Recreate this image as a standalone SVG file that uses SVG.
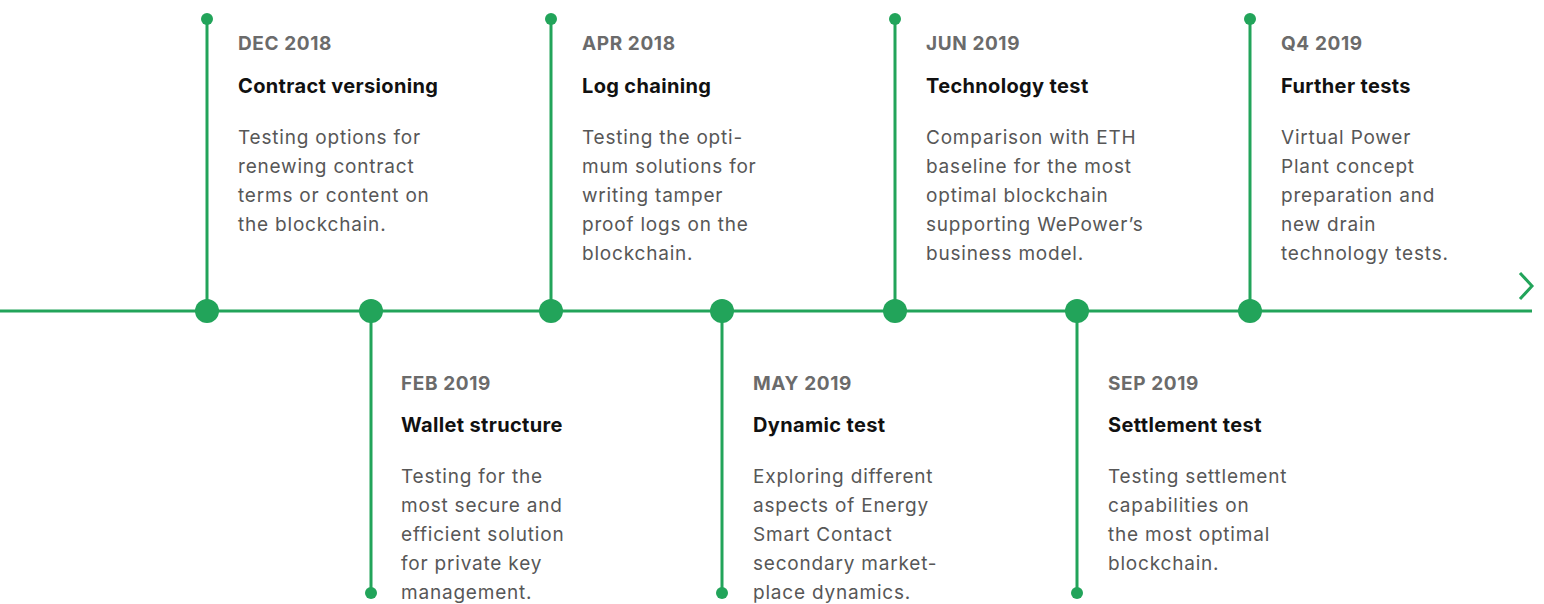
<svg xmlns="http://www.w3.org/2000/svg" width="1544" height="604" viewBox="0 0 1544 604">
<style>
.ln{stroke:#22a45a;stroke-width:3;fill:none}
.dot{fill:#22a45a}
.date{font-family:Inter,"Liberation Sans",sans-serif;font-size:19px;font-weight:700;fill:#6b6b6b;letter-spacing:0.6px}
.title{font-family:Inter,"Liberation Sans",sans-serif;font-size:20px;font-weight:700;fill:#111;letter-spacing:0.35px}
.body{font-family:Inter,"Liberation Sans",sans-serif;font-size:19px;fill:#575757;letter-spacing:0.8px}
</style>
<rect width="1544" height="604" fill="#fff"/>
<g id="connectors">
<line class="ln" x1="0" y1="311" x2="1532" y2="311"/>
<polyline class="ln" points="1520,273 1532,286 1520,299"/>
<line class="ln" x1="207" y1="19" x2="207" y2="311"/>
<line class="ln" x1="551" y1="19" x2="551" y2="311"/>
<line class="ln" x1="895" y1="19" x2="895" y2="311"/>
<line class="ln" x1="1250" y1="19" x2="1250" y2="311"/>
<line class="ln" x1="371" y1="311" x2="371" y2="593"/>
<line class="ln" x1="722" y1="311" x2="722" y2="593"/>
<line class="ln" x1="1077" y1="311" x2="1077" y2="593"/>
</g>
<g id="node-dec2018">
<circle class="dot" cx="207" cy="19" r="6"/><circle class="dot" cx="207" cy="311" r="12"/>
<text class="date" x="238" y="50">DEC 2018</text>
<text class="title" x="238" y="93">Contract versioning</text>
<text class="body" x="238"><tspan x="238" y="144">Testing options for</tspan><tspan x="238" y="173">renewing contract</tspan><tspan x="238" y="202">terms or content on</tspan><tspan x="238" y="231">the blockchain.</tspan></text>
</g>
<g id="node-feb2019">
<circle class="dot" cx="371" cy="311" r="12"/><circle class="dot" cx="371" cy="593" r="6"/>
<text class="date" x="401" y="390">FEB 2019</text>
<text class="title" x="401" y="432">Wallet structure</text>
<text class="body"><tspan x="401" y="483">Testing for the</tspan><tspan x="401" y="512">most secure and</tspan><tspan x="401" y="541">efficient solution</tspan><tspan x="401" y="570">for private key</tspan><tspan x="401" y="599">management.</tspan></text>
</g>
<g id="node-apr2018">
<circle class="dot" cx="551" cy="19" r="6"/><circle class="dot" cx="551" cy="311" r="12"/>
<text class="date" x="582" y="50">APR 2018</text>
<text class="title" x="582" y="93">Log chaining</text>
<text class="body"><tspan x="582" y="144">Testing the opti-</tspan><tspan x="582" y="173">mum solutions for</tspan><tspan x="582" y="202">writing tamper</tspan><tspan x="582" y="231">proof logs on the</tspan><tspan x="582" y="260">blockchain.</tspan></text>
</g>
<g id="node-may2019">
<circle class="dot" cx="722" cy="311" r="12"/><circle class="dot" cx="722" cy="593" r="6"/>
<text class="date" x="753" y="390">MAY 2019</text>
<text class="title" x="753" y="432">Dynamic test</text>
<text class="body"><tspan x="753" y="483">Exploring different</tspan><tspan x="753" y="512">aspects of Energy</tspan><tspan x="753" y="541">Smart Contact</tspan><tspan x="753" y="570">secondary market-</tspan><tspan x="753" y="599">place dynamics.</tspan></text>
</g>
<g id="node-jun2019">
<circle class="dot" cx="895" cy="19" r="6"/><circle class="dot" cx="895" cy="311" r="12"/>
<text class="date" x="926" y="50">JUN 2019</text>
<text class="title" x="926" y="93">Technology test</text>
<text class="body"><tspan x="926" y="144">Comparison with ETH</tspan><tspan x="926" y="173">baseline for the most</tspan><tspan x="926" y="202">optimal blockchain</tspan><tspan x="926" y="231">supporting WePower’s</tspan><tspan x="926" y="260">business model.</tspan></text>
</g>
<g id="node-sep2019">
<circle class="dot" cx="1077" cy="311" r="12"/><circle class="dot" cx="1077" cy="593" r="6"/>
<text class="date" x="1108" y="390">SEP 2019</text>
<text class="title" x="1108" y="432">Settlement test</text>
<text class="body"><tspan x="1108" y="483">Testing settlement</tspan><tspan x="1108" y="512">capabilities on</tspan><tspan x="1108" y="541">the most optimal</tspan><tspan x="1108" y="570">blockchain.</tspan></text>
</g>
<g id="node-q42019">
<circle class="dot" cx="1250" cy="19" r="6"/><circle class="dot" cx="1250" cy="311" r="12"/>
<text class="date" x="1281" y="50">Q4 2019</text>
<text class="title" x="1281" y="93">Further tests</text>
<text class="body"><tspan x="1281" y="144">Virtual Power</tspan><tspan x="1281" y="173">Plant concept</tspan><tspan x="1281" y="202">preparation and</tspan><tspan x="1281" y="231">new drain</tspan><tspan x="1281" y="260">technology tests.</tspan></text>
</g>
</svg>
